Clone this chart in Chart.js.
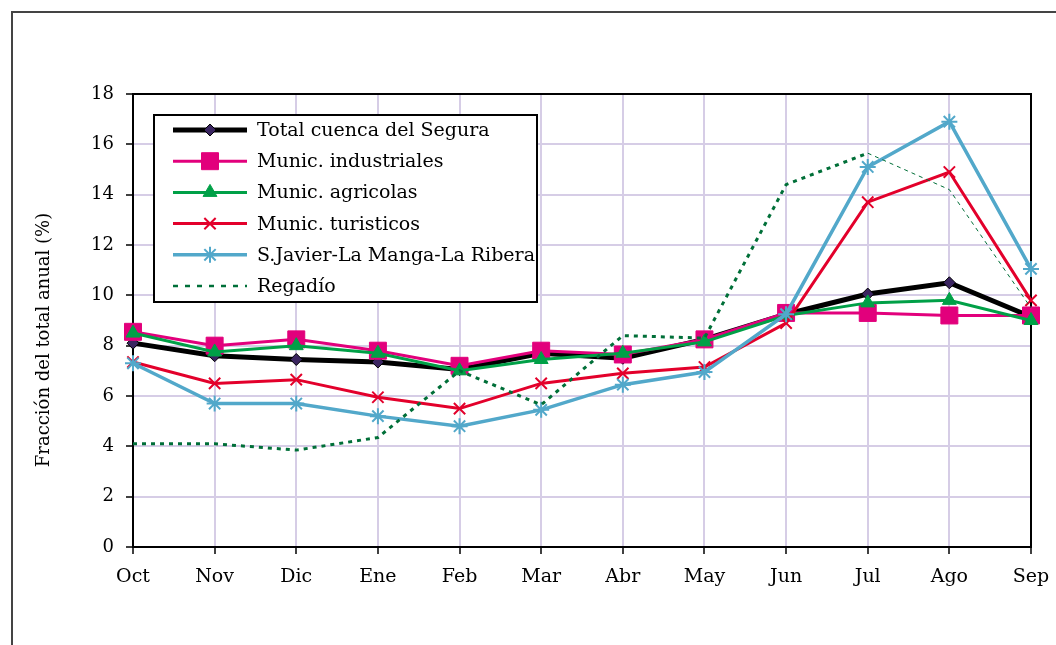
<!DOCTYPE html>
<html>
<head>
<meta charset="utf-8">
<script src="https://cdn.jsdelivr.net/npm/chart.js@4/dist/chart.umd.min.js"></script>
<style>
  html, body { margin: 0; padding: 0; background: #fff; overflow: hidden; }
  #wrap { position: relative; width: 1056px; height: 645px; }
  #frame { position: absolute; left: 11px; top: 11px; width: 1100px; height: 700px;
           border-left: 2px solid #444; border-top: 2px solid #444; }
  canvas { position: absolute; left: 0; top: 0; }
</style>
</head>
<body>
<div id="wrap">
  <div id="frame"></div>
  <canvas id="chart" width="1056" height="645"></canvas>
</div>
<script>
// months on the x axis
const months = ["Oct", "Nov", "Dic", "Ene", "Feb", "Mar", "Abr", "May", "Jun", "Jul", "Ago", "Sep"];

// monthly share of the annual total (%)
const total      = [8.1, 7.6, 7.45, 7.35, 7.05, 7.7, 7.5, 8.25, 9.25, 10.05, 10.5, 9.15];
const industrial = [8.55, 8.0, 8.25, 7.8, 7.2, 7.8, 7.65, 8.25, 9.3, 9.3, 9.2, 9.2];
const agricola   = [8.5, 7.75, 8.0, 7.7, 7.0, 7.45, 7.7, 8.15, 9.2, 9.7, 9.8, 9.0];
const turistico  = [7.35, 6.5, 6.65, 5.95, 5.5, 6.5, 6.9, 7.15, 8.9, 13.7, 14.9, 9.8];
const sjavier    = [7.3, 5.7, 5.7, 5.2, 4.8, 5.45, 6.45, 6.95, 9.25, 15.1, 16.9, 11.05];
const regadio    = [4.1, 4.1, 3.85, 4.35, 7.0, 5.65, 8.4, 8.3, 14.4, 15.65, 14.2, 9.5];

const seriesNames = ["Total cuenca del Segura", "Munic. industriales", "Munic. agricolas",
  "Munic. turisticos", "S.Javier-La Manga-La Ribera", "Regadío"];
const yTicks = [0, 2, 4, 6, 8, 10, 12, 14, 16, 18];
const yTitle = "Fracción del total anual (%)";

const FONT = "'DejaVu Serif', serif";
const GRID = "#d6cde6";

// =======================
// PLUGINS
// =======================

// black frame on top and right of the plot
const plotFrame = {
  id: "plotFrame",
  beforeDatasetsDraw(c) {
    const a = c.chartArea, ctx = c.ctx;
    ctx.save();
    ctx.strokeStyle = "#000";
    ctx.lineWidth = 2;
    ctx.beginPath();
    ctx.moveTo(a.left, a.top);
    ctx.lineTo(a.right, a.top);
    ctx.lineTo(a.right, a.bottom);
    ctx.stroke();
    ctx.restore();
  }
};

// y title, placed like the original
const sideTitle = {
  id: "sideTitle",
  afterDraw(c) {
    const ctx = c.ctx;
    ctx.save();
    ctx.translate(44, 340);
    ctx.rotate(-Math.PI / 2);
    ctx.font = "18px " + FONT;
    ctx.fillStyle = "#000";
    ctx.textAlign = "center";
    ctx.textBaseline = "middle";
    ctx.fillText(yTitle, 0, 0);
    ctx.restore();
  }
};

// boxed legend inside the plot, line + marker samples
const boxLegend = {
  id: "boxLegend",
  afterDatasetsDraw(c) {
    const ctx = c.ctx;
    const x0 = 154, y0 = 115, w = 383, h = 187;
    ctx.save();
    ctx.fillStyle = "#fff";
    ctx.fillRect(x0, y0, w, h);
    ctx.strokeStyle = "#000";
    ctx.lineWidth = 2;
    ctx.strokeRect(x0, y0, w, h);

    c.data.datasets.forEach((ds, i) => {
      const y = 130 + i * 31.2;
      ctx.save();
      ctx.strokeStyle = ds.borderColor;
      ctx.lineWidth = ds.legendWidth || ds.borderWidth;
      ctx.setLineDash(ds.legendDash || []);
      ctx.beginPath();
      ctx.moveTo(173, y);
      ctx.lineTo(247, y);
      ctx.stroke();
      ctx.restore();

      if (ds.pointRadius > 0) {
        ctx.save();
        ctx.fillStyle = ds.pointBackgroundColor;
        ctx.strokeStyle = ds.pointBorderColor;
        ctx.lineWidth = ds.pointBorderWidth;
        Chart.helpers.drawPoint(ctx, {
          pointStyle: ds.pointStyle,
          rotation: 0,
          radius: ds.pointRadius,
          borderWidth: ds.pointBorderWidth
        }, 210, y);
        ctx.restore();
      }

      ctx.fillStyle = "#000";
      ctx.font = "19px " + FONT;
      ctx.textAlign = "left";
      ctx.textBaseline = "middle";
      ctx.fillText(ds.label, 257, y + 1);
    });
    ctx.restore();
  }
};

// =======================
// CHART
// =======================

const ctx = document.getElementById("chart").getContext("2d");

new Chart(ctx, {
  type: "line",
  data: {
    labels: months,
    datasets: [
      {
        label: seriesNames[0], data: total, order: 6,
        borderColor: "#000", borderWidth: 5,
        pointStyle: "rectRot", pointRadius: 6,
        pointBackgroundColor: "#3a2460", pointBorderColor: "#000", pointBorderWidth: 1
      },
      {
        label: seriesNames[1], data: industrial, order: 5,
        borderColor: "#e2007c", borderWidth: 3,
        pointStyle: "rect", pointRadius: 12,
        pointBackgroundColor: "#e2007c", pointBorderColor: "#e2007c", pointBorderWidth: 1
      },
      {
        label: seriesNames[2], data: agricola, order: 4,
        borderColor: "#00a047", borderWidth: 3,
        pointStyle: "triangle", pointRadius: 8,
        pointBackgroundColor: "#00a047", pointBorderColor: "#00a047", pointBorderWidth: 1
      },
      {
        label: seriesNames[3], data: turistico, order: 3,
        borderColor: "#e3002b", borderWidth: 3,
        pointStyle: "crossRot", pointRadius: 8,
        pointBackgroundColor: "#e3002b", pointBorderColor: "#e3002b", pointBorderWidth: 2
      },
      {
        label: seriesNames[4], data: sjavier, order: 2,
        borderColor: "#52a8ca", borderWidth: 3.5,
        pointStyle: "star", pointRadius: 8,
        pointBackgroundColor: "#52a8ca", pointBorderColor: "#52a8ca", pointBorderWidth: 2
      },
      {
        label: seriesNames[5], data: regadio, order: 1,
        borderColor: "#006f38", borderWidth: 2.5, legendWidth: 2.5, legendDash: [5, 7],
        pointRadius: 0,
        segment: {
          borderWidth: s => s.p0DataIndex >= 9 ? 1 : 3,
          borderDash: s => s.p0DataIndex >= 9 ? [4, 4] : [4, 5]
        }
      }
    ]
  },
  options: {
    responsive: false,
    animation: false,
    layout: { padding: { top: 94, right: 25, bottom: 0, left: 0 } },
    plugins: {
      legend: { display: false },
      tooltip: { enabled: false }
    },
    elements: { line: { tension: 0 } },
    scales: {
      x: {
        offset: false,
        afterFit: s => { s.height = 98; s.paddingLeft = 0; s.paddingRight = 0; },
        grid: { color: GRID, lineWidth: 2, tickColor: "#000", tickWidth: 1.5, tickLength: 7 },
        border: { color: "#000", width: 2 },
        ticks: { color: "#000", font: { family: FONT, size: 19 }, padding: 12, maxRotation: 0 }
      },
      y: {
        min: 0, max: 18,
        afterFit: s => { s.width = 133; },
        afterBuildTicks: s => { s.ticks = yTicks.map(v => ({ value: v })); },
        grid: { color: GRID, lineWidth: 2, tickColor: "#000", tickWidth: 1.5, tickLength: 7 },
        border: { color: "#000", width: 2 },
        ticks: { color: "#000", font: { family: FONT, size: 18 }, padding: 12 }
      }
    }
  },
  plugins: [plotFrame, boxLegend, sideTitle]
});
</script>
</body>
</html>
